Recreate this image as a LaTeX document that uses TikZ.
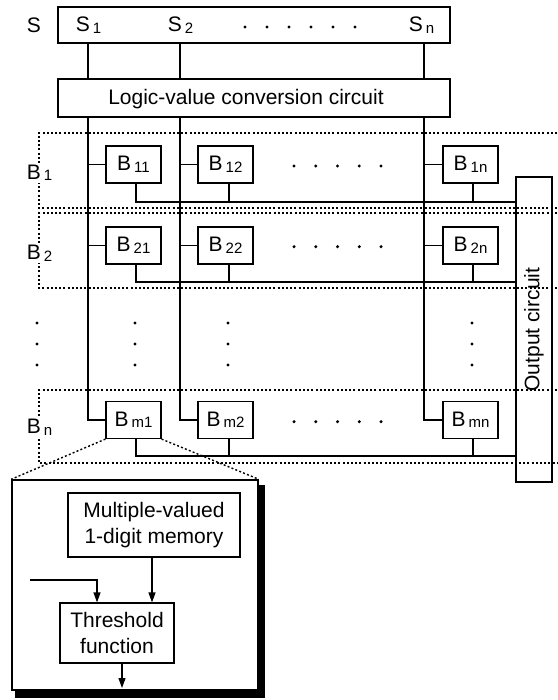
\documentclass[tikz,border=0pt]{standalone}
\usepackage{fontspec}
\setmainfont{Liberation Sans}
\usetikzlibrary{arrows.meta}
\newcommand\subs[1]{\raisebox{-1.5pt}{\fontsize{15}{15}\selectfont #1}}
\begin{document}
\begin{tikzpicture}[x=1pt,y=-1pt,
  base/.style={font=\fontsize{21}{26}\selectfont, inner sep=0pt},
  bbox/.style={draw, line width=1.2pt, base, minimum width=55pt, minimum height=37pt},
  wire/.style={line width=1.2pt},
  dotline/.style={line width=1.4pt, dash pattern=on 2pt off 2.2pt},
  arr/.style={wire, -{Triangle[length=10pt,width=7pt]}},
  rowlab/.style={base, fill=white, inner sep=2pt},
  dotmark/.style={fill=black}]
\useasboundingbox (0,0) rectangle (557,700);

% column coordinates
\coordinate (x1) at (88,0);
\coordinate (x2) at (180,0);
\coordinate (xn) at (424,0);
\coordinate (r1) at (0,202);
\coordinate (r2) at (0,282);
\coordinate (rm) at (0,456);

% dotted row frames
\draw[dotline] (557,133) -- (39,133) -- (39,208) -- (557,208);
\draw[dotline] (557,213) -- (39,213) -- (39,288) -- (557,288);
\draw[dotline] (557,390) -- (39,390) -- (39,463) -- (557,463);

% S box and logic box
\node[base] (slab) at (34,25) {S};
\node[draw, wire, base, minimum width=392pt, minimum height=36pt] (s) at (254,25) {};
\node[base] (s1) at (88.5,25) {S\hspace{3pt}\subs{1}};
\node[base] (s2) at (180.5,25) {S\hspace{3pt}\subs{2}};
\node[base] (sn) at (421.5,25) {S\hspace{3pt}\subs{n}};
\foreach \i in {0,...,5} \fill[dotmark] (245+22*\i,27) circle (1.7pt);

\node[draw, wire, base, minimum width=392pt, minimum height=38pt] (logic) at (254,98) {};
\node[base] (logictext) at (246,99) {Logic-value conversion circuit};

% B cells
\node[bbox] (b11) at (133.5,164.5) {B\hspace{3pt}\subs{11}};
\node[bbox] (b12) at (225.5,164.5) {B\hspace{3pt}\subs{12}};
\node[bbox] (b1n) at (470.5,164.5) {B\hspace{3pt}\subs{1n}};
\node[bbox] (b21) at (133.5,245.5) {B\hspace{3pt}\subs{21}};
\node[bbox] (b22) at (225.5,245.5) {B\hspace{3pt}\subs{22}};
\node[bbox] (b2n) at (470.5,245.5) {B\hspace{3pt}\subs{2n}};
\node[bbox] (bm1) at (133.5,420) {B\hspace{3pt}\subs{m1}};
\node[bbox] (bm2) at (225.5,420) {B\hspace{3pt}\subs{m2}};
\node[bbox] (bmn) at (470.5,420) {B\hspace{3pt}\subs{mn}};

% output circuit (rotated: its north side is the left side)
\node[draw, wire, base, rotate=90, minimum width=305pt, minimum height=36pt] (out) at (534,329.5) {Output circuit};

% column wires
\draw[wire] (s.south -| x1) -- (logic.north -| x1);
\draw[wire] (s.south -| x2) -- (logic.north -| x2);
\draw[wire] (s.south -| xn) -- (logic.north -| xn);
\draw[wire] (logic.south -| x1) |- (bm1.west);
\draw[wire] (logic.south -| x2) |- (bm2.west);
\draw[wire] (logic.south -| xn) |- (bmn.west);
\foreach \b/\x in {b11/x1,b21/x1,b12/x2,b22/x2,b1n/xn,b2n/xn}
  \draw[wire] (\b.west) -- (\b.west -| \x);

% output buses
\draw[wire] ([xshift=2.5pt]b11.south) |- (out.north |- r1);
\draw[wire] ([xshift=3.5pt]b12.south) -- ([xshift=3.5pt]b12.south |- r1);
\draw[wire] ([xshift=2.5pt]b1n.south) -- ([xshift=2.5pt]b1n.south |- r1);
\draw[wire] ([xshift=2.5pt]b21.south) |- (out.north |- r2);
\draw[wire] ([xshift=3.5pt]b22.south) -- ([xshift=3.5pt]b22.south |- r2);
\draw[wire] ([xshift=2.5pt]b2n.south) -- ([xshift=2.5pt]b2n.south |- r2);
\draw[wire] ([xshift=2.5pt]bm1.south) |- (out.north |- rm);
\draw[wire] ([xshift=3.5pt]bm2.south) -- ([xshift=3.5pt]bm2.south |- rm);
\draw[wire] ([xshift=2.5pt]bmn.south) -- ([xshift=2.5pt]bmn.south |- rm);

% ellipsis dots
\foreach \y in {166,246.7,421.7}
  \foreach \i in {0,...,4} \fill[dotmark] (294+21.75*\i,\y) circle (1.7pt);
\foreach \x in {37,135,228,472}
  \foreach \y in {323,344,365} \fill[dotmark] (\x,\y) circle (1.7pt);

% row labels
\node[rowlab] (lb1) at (39.5,173) {B\hspace{3pt}\subs{1}};
\node[rowlab] (lb2) at (39.5,253.5) {B\hspace{3pt}\subs{2}};
\node[rowlab] (lbn) at (39.5,427.5) {B\hspace{3pt}\subs{n}};

% detail box
\fill (15,485) rectangle (265,698);
\node[draw, fill=white, line width=1.5pt, minimum width=246pt, minimum height=210pt, inner sep=0pt] (detail) at (135,585) {};
\draw[dotline] (bm1.south west) -- (detail.north west);
\draw[dotline] (bm1.south east) -- (detail.north east);

\node[draw, wire, base, align=center, minimum width=172pt, minimum height=64pt] (mem) at (154,525) {Multiple-valued\\1-digit memory};
\node[draw, wire, base, align=center, minimum width=114pt, minimum height=60pt] (thr) at (117,633) {Threshold\\function};
\coordinate (inp) at (30,580);
\coordinate (outp) at (122,688);
\draw[arr] (mem.south -| 152,0) -- (thr.north -| 152,0);
\draw[arr] (inp) -| (thr.north -| 97,0);
\draw[arr] (thr.south -| outp) -- (outp);
\end{tikzpicture}
\end{document}
